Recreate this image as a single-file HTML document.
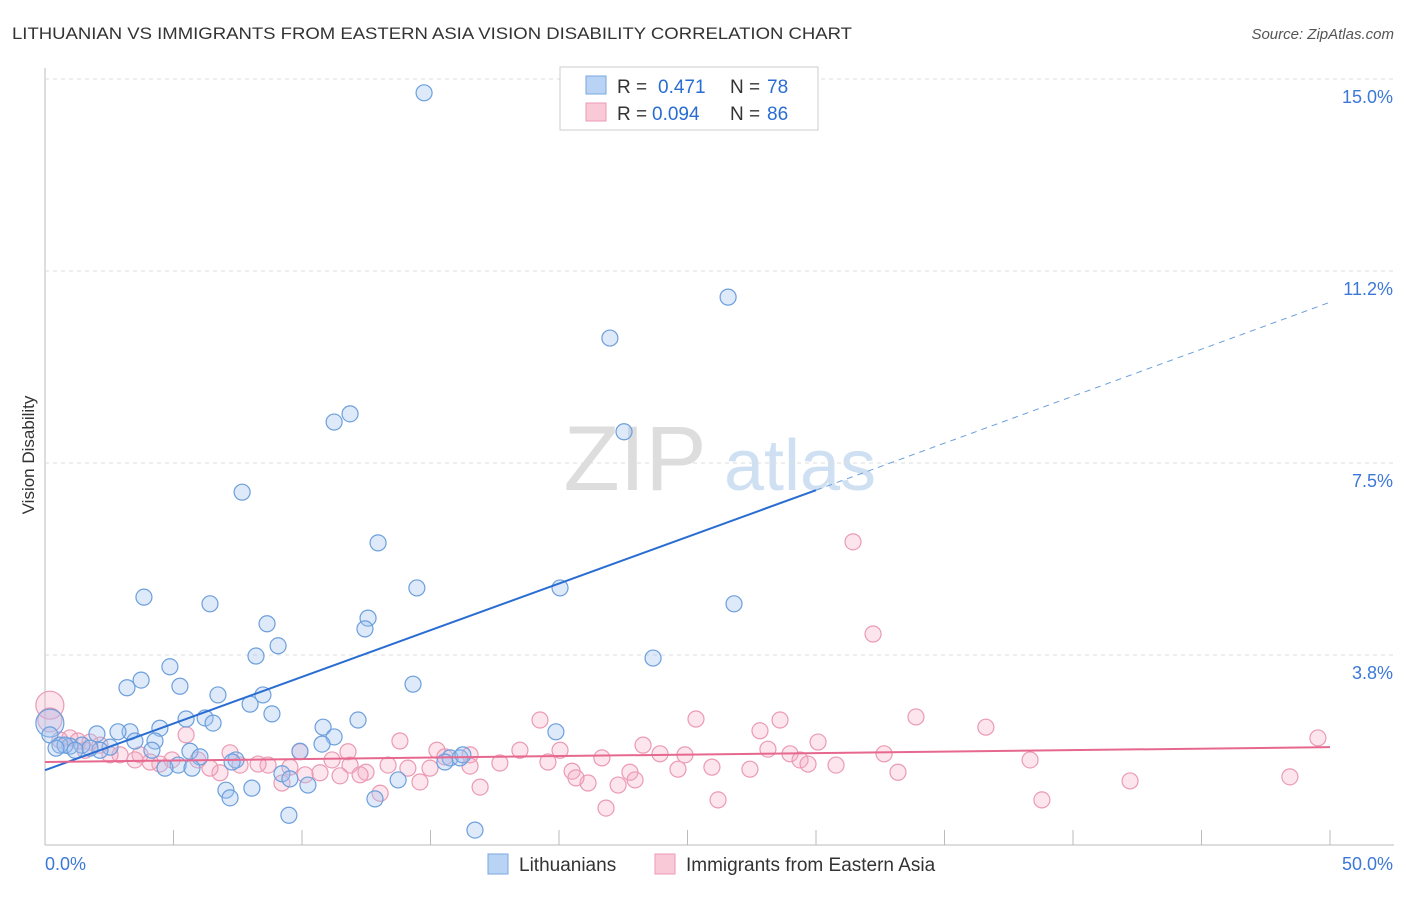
<!DOCTYPE html>
<html><head><meta charset="utf-8"><style>
body{margin:0;background:#fff;font-family:"Liberation Sans",sans-serif;}
svg text{font-family:"Liberation Sans",sans-serif;}
</style></head><body>
<svg id="chart" width="1406" height="892">
<text x="12" y="39" font-size="17" fill="#333" textLength="840" lengthAdjust="spacingAndGlyphs">LITHUANIAN VS IMMIGRANTS FROM EASTERN ASIA VISION DISABILITY CORRELATION CHART</text>
<text x="1394" y="39" font-size="15" fill="#555" text-anchor="end" font-style="italic">Source: ZipAtlas.com</text>
<text x="34" y="455" font-size="17" fill="#333" transform="rotate(-90 34 455)" text-anchor="middle">Vision Disability</text>
<g><text x="635" y="490" font-size="92" fill="#ddd" font-family="Liberation Serif,serif" text-anchor="middle">ZIP</text><text x="800" y="490" font-size="72" fill="#cfe0f3" text-anchor="middle">atlas</text></g>
<g id="grid"></g><g id="pts"></g><g id="trend"></g>
<g>
<rect x="560" y="67" width="258" height="63" fill="#fff" stroke="#ccc"/>
<rect x="586" y="76" width="20" height="18" fill="#b9d3f5" stroke="#7aa7e0"/>
<rect x="586" y="103" width="20" height="18" fill="#f9c9d7" stroke="#eb9ab3"/>
<text x="617" y="93" font-size="19" fill="#333">R =</text><text x="658" y="93" font-size="19" fill="#2a6dd2">0.471</text>
<text x="730" y="93" font-size="19" fill="#333">N =</text><text x="767" y="93" font-size="19" fill="#2a6dd2">78</text>
<text x="617" y="120" font-size="19" fill="#333">R =</text><text x="652" y="120" font-size="19" fill="#2a6dd2">0.094</text>
<text x="730" y="120" font-size="19" fill="#333">N =</text><text x="767" y="120" font-size="19" fill="#2a6dd2">86</text>
</g>
<g>
<rect x="488" y="854" width="20" height="20" fill="#b9d3f5" stroke="#7aa7e0"/>
<text x="519" y="871" font-size="19" fill="#333">Lithuanians</text>
<rect x="655" y="854" width="20" height="20" fill="#f9c9d7" stroke="#eb9ab3"/>
<text x="686" y="871" font-size="19" fill="#333">Immigrants from Eastern Asia</text>
</g>
</svg>
<script>
const yTicks=[3.75,7.5,11.25,15.0];
const yTickLabels=["3.8%","7.5%","11.2%","15.0%"];
const xTicks=[0,5,10,15,20,25,30,35,40,45,50];
const blueX=[14.75,26.58,21.98,11.87,11.25,22.53,7.67,12.96,14.47,20.04,3.85,6.42,26.81,12.57,12.45,8.64,9.07,8.21,23.66,4.86,3.74,3.19,5.25,14.32,6.73,8.48,7.98,8.83,5.49,6.23,6.54,12.18,4.47,10.82,3.31,2.84,2.02,19.88,0.19,0.19,1.44,0.97,0.58,2.53,3.50,4.28,4.16,11.25,10.78,5.64,9.92,6.03,7.43,7.28,15.76,16.15,16.26,15.56,5.18,4.67,5.72,9.22,9.53,13.74,10.23,7.04,8.05,7.20,12.84,9.49,16.73,2.14,1.75,0.78,1.17,0.43];
const blueY=[14.73,10.74,9.94,8.46,8.30,8.11,6.93,5.94,5.06,5.06,4.88,4.75,4.75,4.47,4.26,4.36,3.93,3.73,3.69,3.52,3.26,3.11,3.14,3.18,2.97,2.97,2.79,2.60,2.50,2.52,2.42,2.48,2.32,2.34,2.25,2.25,2.21,2.25,2.42,2.19,1.99,1.97,1.99,1.95,2.07,2.07,1.89,2.15,2.01,1.87,1.87,1.76,1.70,1.66,1.74,1.74,1.80,1.66,1.60,1.54,1.54,1.43,1.33,1.31,1.21,1.11,1.15,0.96,0.94,0.62,0.33,1.89,1.93,1.99,1.89,1.93];
const pinkX=[31.44,32.22,0.19,0.19,33.89,36.61,25.33,28.60,19.26,27.82,30.08,49.53,13.81,23.27,15.25,18.48,16.54,20.04,23.93,24.90,28.13,28.99,29.38,32.65,38.33,29.69,30.78,17.70,19.57,21.67,25.95,27.43,24.63,20.51,22.76,33.19,48.44,42.22,38.79,26.19,21.83,21.13,22.30,22.96,20.66,16.93,14.59,14.98,14.12,13.35,12.49,11.87,11.17,10.70,10.12,9.53,8.68,8.29,7.59,6.81,6.42,5.95,5.49,4.94,4.47,4.09,3.70,2.92,2.53,2.14,1.75,1.56,0.97,1.28,13.04,12.26,11.48,11.79,9.92,7.20,9.22,15.56,16.54,0.58,3.50];
const pinkY=[5.96,4.16,2.77,2.48,2.54,2.34,2.50,2.48,2.48,2.27,2.05,2.13,2.07,1.99,1.89,1.89,1.80,1.89,1.82,1.80,1.91,1.82,1.70,1.82,1.70,1.62,1.60,1.64,1.66,1.74,1.56,1.52,1.52,1.48,1.46,1.46,1.37,1.29,0.92,0.92,0.76,1.25,1.21,1.31,1.35,1.17,1.27,1.54,1.54,1.60,1.46,1.60,1.70,1.45,1.41,1.56,1.60,1.62,1.60,1.45,1.54,1.70,2.19,1.70,1.62,1.66,1.80,1.80,1.80,1.99,2.05,1.89,2.13,2.07,1.05,1.41,1.39,1.86,1.86,1.84,1.25,1.76,1.58,2.09,1.70];
const blueTrend=[[0,1.5],[30,6.97],[50,10.64]];
const pinkTrend=[[0,1.66],[50,1.95]];
const sx=v=>45+v*25.7, sy=v=>847-v*51.2;
const NS="http://www.w3.org/2000/svg";
function mk(parent,tag,at){const e=document.createElementNS(NS,tag);for(const k in at)e.setAttribute(k,at[k]);document.getElementById(parent).appendChild(e);return e;}
let ax=mk('grid','line',{x1:45,y1:845,x2:1394,y2:845,stroke:'#bbb'});


let ay=mk('grid','line',{x1:45,y1:68,x2:45,y2:845,stroke:'#bbb'});


yTicks.forEach((v,i)=>{
 const y=sy(v);
 let g=mk('grid','line',{x1:45,y1:y,x2:1394,y2:y,stroke:'#ddd','stroke-dasharray':'4,4'});
 
 
 let t=mk('grid','text',{x:1393,y:y+24,'text-anchor':'end','font-size':18,fill:'#3b78d8'});
 t.textContent=yTickLabels[i];
 
 
});
xTicks.forEach(v=>{
 let l=mk('grid','line',{x1:sx(v),y1:830,x2:sx(v),y2:845,stroke:'#bbb'});
 
 
});
let xl=mk('grid','text',{x:45,y:870,'font-size':18,fill:'#3b78d8'});xl.textContent='0.0%';


let xr=mk('grid','text',{x:1393,y:870,'font-size':18,fill:'#3b78d8','text-anchor':'end'});xr.textContent='50.0%';


pinkX.forEach((x,i)=>{
 let c=mk('pts','circle',{cx:sx(x),cy:sy(pinkY[i]),r:(i===2?14:(i===3?12:8)),fill:'rgba(246,170,195,0.3)',stroke:'#eb9ab3','stroke-width':1.2});
 
 
});
blueX.forEach((x,i)=>{
 let c=mk('pts','circle',{cx:sx(x),cy:sy(blueY[i]),r:(i===38?14:8),fill:'rgba(160,195,240,0.35)',stroke:'#6c9fdc','stroke-width':1.2});
 
 
});
let b1=mk('trend','line',{x1:sx(blueTrend[0][0]),y1:sy(blueTrend[0][1]),x2:sx(blueTrend[1][0]),y2:sy(blueTrend[1][1]),stroke:'#2a6dd2','stroke-width':2});


let b2=mk('trend','line',{x1:sx(blueTrend[1][0]),y1:sy(blueTrend[1][1]),x2:sx(blueTrend[2][0]),y2:sy(blueTrend[2][1]),stroke:'#6c9fdc','stroke-width':1,'stroke-dasharray':'6,5'});


let p1=mk('trend','line',{x1:sx(pinkTrend[0][0]),y1:sy(pinkTrend[0][1]),x2:sx(pinkTrend[1][0]),y2:sy(pinkTrend[1][1]),stroke:'#e6688f','stroke-width':2});


</script>
</body></html>
